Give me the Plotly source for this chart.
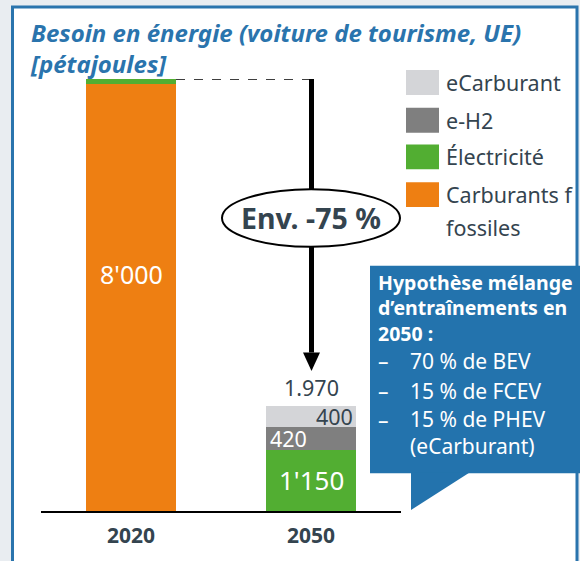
import plotly.graph_objects as go

# ---------------- data ----------------
categories = ["2020", "2050"]
fossil = [8000, 0]        # Carburants fossiles
elec = [100, 1150]        # Électricité
eh2 = [0, 420]            # e-H2
ecarb = [0, 400]          # eCarburant
total_2050_label = "1.970"
fossil_label = "8'000"
elec_label = "1'150"
eh2_label = "420"
ecarb_label = "400"
reduction_label = "Env. -75 %"
legend_names = ["eCarburant", "e-H2", "Électricité", "Carburants f"]

# ---------------- styling ----------------
C_FOSSIL = "#ee7f12"
C_ELEC = "#52ae32"
C_EH2 = "#7f7f7f"
C_ECARB = "#d4d5d8"
C_TEXT = "#34444f"
C_BLUE = "#2a74ad"
C_BOX = "#2373ad"
FONT = "Noto Sans"

W, H = 580, 561
L, R, T, B = 41, 179, 79, 47
PW, PH = W - L - R, H - T - B
YMAX = 8100


def PX(px):
    return (px - L) / PW


def PY(py):
    return (H - B - py) / PH


fig = go.Figure()
for name, vals, col in [("Carburants fossiles", fossil, C_FOSSIL),
                        ("Électricité", elec, C_ELEC),
                        ("e-H2", eh2, C_EH2),
                        ("eCarburant", ecarb, C_ECARB)]:
    fig.add_trace(go.Bar(x=categories, y=vals, name=name, marker_color=col,
                         marker_line_width=0, width=0.5, showlegend=False,
                         hoverinfo="skip"))

shapes = []
# white panel with blue border
shapes.append(dict(type="rect", xref="paper", yref="paper", layer="below",
                   x0=PX(12.5), x1=PX(577), y0=PY(620), y1=PY(6.5),
                   fillcolor="white", line=dict(color=C_BLUE, width=3)))
# dashed reference line from top of 2020 bar
top2020 = fossil[0] + elec[0]
shapes.append(dict(type="line", xref="x", yref="y", x0=0.25, x1=1.0,
                   y0=top2020, y1=top2020,
                   line=dict(color="black", width=1.5, dash="dash")))
# arrow shaft
cx = PX(311.5)
arrow_tip = 2625
head_top = 2970
shapes.append(dict(type="line", xref="paper", yref="y", x0=cx, x1=cx,
                   y0=top2020, y1=head_top,
                   line=dict(color="black", width=5)))
hw = 8.5 / PW
shapes.append(dict(type="path", xref="paper", yref="y",
                   path=f"M {cx-hw} {head_top} L {cx+hw} {head_top} L {cx} {arrow_tip} Z",
                   fillcolor="black", line=dict(color="black", width=0)))
# ellipse
shapes.append(dict(type="circle", xref="paper", yref="paper",
                   x0=PX(222), x1=PX(400), y0=PY(248), y1=PY(190),
                   fillcolor="white", line=dict(color="black", width=2)))
# legend swatches
sw_tops = [70, 108, 145, 183]
for top, col in zip(sw_tops, [C_ECARB, C_EH2, C_ELEC, C_FOSSIL]):
    shapes.append(dict(type="rect", xref="paper", yref="paper",
                       x0=PX(406), x1=PX(439), y0=PY(top + 25), y1=PY(top),
                       fillcolor=col, line=dict(width=0)))
# blue info box with callout
shapes.append(dict(type="rect", xref="paper", yref="paper",
                   x0=PX(370), x1=PX(600), y0=PY(476), y1=PY(267),
                   fillcolor=C_BOX, line=dict(width=0)))
shapes.append(dict(type="path", xref="paper", yref="paper",
                   path=(f"M {PX(411)} {PY(475)} L {PX(470)} {PY(475)} "
                         f"L {PX(411)} {PY(513)} Z"),
                   fillcolor=C_BOX, line=dict(width=0)))

ann = []


def A(**kw):
    kw.setdefault("showarrow", False)
    kw.setdefault("xanchor", "center")
    kw.setdefault("yanchor", "middle")
    kw.setdefault("borderpad", 0)
    ann.append(kw)


# title (two lines)
A(xref="paper", yref="paper", x=PX(29), y=PY(48), xanchor="left", align="left",
  text="<b><i>Besoin en énergie (voiture de tourisme, UE)<br>[pétajoules]</i></b>",
  font=dict(family=FONT, size=24, color=C_BLUE))
# value labels
A(x=0, y=fossil[0] * 0.555, xref="x", yref="y", text=fossil_label,
  font=dict(family=FONT, size=25, color="white"))
A(x=1, y=elec[1] / 2, xref="x", yref="y", text=elec_label,
  font=dict(family=FONT, size=26, color="white"))
A(x=1, y=elec[1] + eh2[1] / 2, xref="x", yref="y", xshift=-23, text=eh2_label,
  font=dict(family=FONT, size=21.5, color="white"))
A(x=1, y=elec[1] + eh2[1] + ecarb[1] / 2, xref="x", yref="y", xshift=23,
  text=ecarb_label, font=dict(family=FONT, size=21.5, color=C_TEXT))
total2050 = elec[1] + eh2[1] + ecarb[1]
A(x=1, y=total2050, xref="x", yref="y", yanchor="bottom", yshift=3,
  text=total_2050_label, font=dict(family=FONT, size=21.5, color=C_TEXT))
# ellipse text
A(xref="paper", yref="paper", x=PX(311), y=PY(219),
  text=f"<b>{reduction_label}</b>",
  font=dict(family=FONT, size=28.5, color=C_TEXT))
# legend text
for (txt, top) in zip(legend_names, sw_tops):
    A(xref="paper", yref="paper", x=PX(445), y=PY(top + 12.5), xanchor="left",
      text=txt, font=dict(family=FONT, size=21.5, color=C_TEXT))
A(xref="paper", yref="paper", x=PX(445), y=PY(229), xanchor="left",
  text="fossiles", font=dict(family=FONT, size=21.5, color=C_TEXT))
# info box text
A(xref="paper", yref="paper", x=PX(377), y=PY(310), xanchor="left", align="left",
  text="<b>Hypothèse mélange<br>d’entraînements en<br>2050 :</b>",
  font=dict(family=FONT, size=19.5, color="white"))
for y in [363, 393, 422]:
    A(xref="paper", yref="paper", x=PX(377), y=PY(y), xanchor="left", text="–",
      font=dict(family=FONT, size=21, color="white"))
A(xref="paper", yref="paper", x=PX(409), y=PY(363), xanchor="left",
  text="70 % de BEV", font=dict(family=FONT, size=21, color="white"))
A(xref="paper", yref="paper", x=PX(409), y=PY(393), xanchor="left",
  text="15 % de FCEV", font=dict(family=FONT, size=21, color="white"))
A(xref="paper", yref="paper", x=PX(409), y=PY(435), xanchor="left", align="left",
  text="15 % de PHEV<br>(eCarburant)",
  font=dict(family=FONT, size=21, color="white"))

fig.update_layout(
    width=W, height=H,
    margin=dict(l=L, r=R, t=T, b=B, pad=0),
    paper_bgcolor="#e9edf1", plot_bgcolor="rgba(0,0,0,0)",
    barmode="stack", bargap=0.5,
    shapes=shapes, annotations=ann,
    xaxis=dict(type="category", range=[-0.5, 1.5], showgrid=False,
               showline=True, linecolor="black", linewidth=2, ticks="",
               tickfont=dict(family=FONT, size=21, color=C_TEXT, weight="bold"),
               ticklabelstandoff=5, fixedrange=True),
    yaxis=dict(range=[0, YMAX], visible=False, showgrid=False, fixedrange=True),
    font=dict(family=FONT),
)

fig.write_html("out.html", config={"displayModeBar": False},
               post_script="document.body.style.margin='0';")
